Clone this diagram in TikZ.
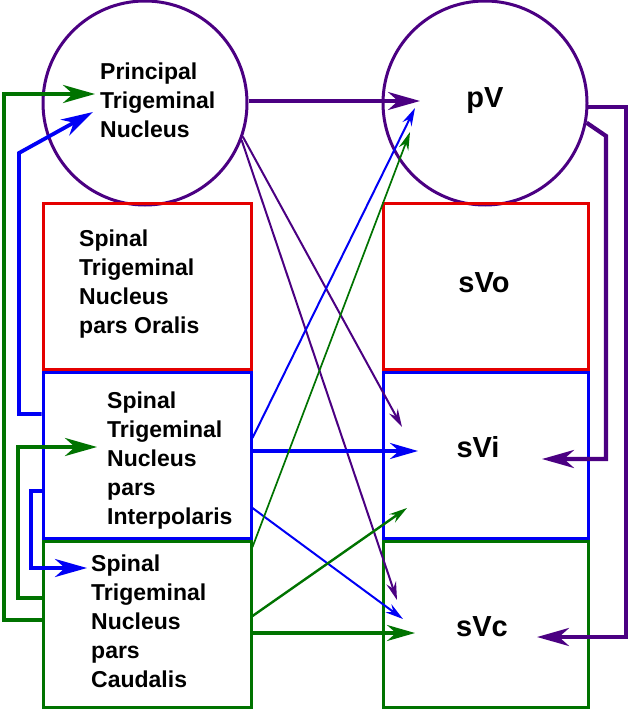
\documentclass[tikz,border=0pt]{standalone}
\usepackage{fontspec}
\setmainfont{Liberation Sans}
\usetikzlibrary{arrows.meta}
\definecolor{pur}{RGB}{75,0,130}
\definecolor{grn}{RGB}{0,115,0}
\definecolor{blu}{RGB}{0,0,245}
\definecolor{rd}{RGB}{228,0,0}
\begin{document}
\begin{tikzpicture}[x=1pt,y=-1pt,
  nuc/.style={circle,draw=pur,line width=3pt,minimum size=204pt,inner sep=0pt},
  box/.style={rectangle,line width=3pt,inner sep=0pt},
  lab/.style={font=\fontsize{23}{29}\selectfont\bfseries,align=left,anchor=north west,inner sep=0pt},
  big/.style={font=\fontsize{29}{34}\selectfont\bfseries,anchor=base,inner sep=0pt},
  bigtip/.style={-{Stealth[length=32pt,width=18pt,inset=10pt]}},
  midtip/.style={-{Stealth[length=28pt,width=16pt,inset=9pt]}},
  smalltip/.style={-{Stealth[length=18pt,width=10pt,inset=6pt]}},
  thickcon/.style={line width=3.8pt,bigtip},
  midcon/.style={line width=3.2pt,midtip},
  thincon/.style={line width=2pt,smalltip},
  purcon/.style={line width=4.2pt,bigtip,draw=pur},
]
\fill[white] (0,0) rectangle (630,711);
\useasboundingbox (0,0) rectangle (630,711);

% nuclei
\node[nuc] (P) at (145,103) {};
\node[nuc] (V) at (485,103) {};
\node[box,draw=rd,minimum width=208pt,minimum height=165pt] (Lo) at (147,286.5) {};
\node[box,draw=rd,minimum width=205pt,minimum height=165pt] (Ro) at (485.5,286.5) {};
\node[box,draw=blu,minimum width=208pt,minimum height=166pt] (Li) at (147,455) {};
\node[box,draw=blu,minimum width=205pt,minimum height=166pt] (Ri) at (485.5,455) {};
\node[box,draw=grn,minimum width=208pt,minimum height=166pt] (Lc) at (147,624) {};
\node[box,draw=grn,minimum width=205pt,minimum height=166pt] (Rc) at (485.5,624) {};

% labels
\node[lab] (tP) at (100,63) {Principal\\Trigeminal\\Nucleus};
\node[lab] (tLo) at (79,230) {Spinal\\Trigeminal\\Nucleus\\pars Oralis};
\node[lab] (tLi) at (107,392) {Spinal\\Trigeminal\\Nucleus\\pars\\Interpolaris};
\node[lab] (tLc) at (91,555) {Spinal\\Trigeminal\\Nucleus\\pars\\Caudalis};
\node[big] (tV) at (485,108) {pV};
\node[big] (tVo) at (484,292) {sVo};
\node[big] (tVi) at (478,457) {sVi};
\node[big] (tVc) at (482,636) {sVc};

% arrow tips
\coordinate (tPa) at (95,94);
\coordinate (tPb) at (93,112);
\coordinate (tVa) at (420,101);
\coordinate (tVb) at (415,108);
\coordinate (tVc) at (410,132);
\coordinate (tIa) at (402,427);
\coordinate (tIb) at (418,451);
\coordinate (tIc) at (407,508);
\coordinate (tId) at (542,459);
\coordinate (tCa) at (397,600);
\coordinate (tCb) at (403,619);
\coordinate (tCc) at (415,633);
\coordinate (tCd) at (537,637);
\coordinate (tLia) at (97,447);
\coordinate (tLca) at (87,568);
% corners
\coordinate (kB1) at (19,153);
\coordinate (kG1) at (4,94);
\coordinate (kG2) at (18,447);
\coordinate (kB2) at (31,568);
\coordinate (kV1) at (606,136);
\coordinate (kV2) at (626,637);

% connectors from Principal
\draw[purcon,line width=3.4pt] (P.east |- tVa) -- (tVa);
\draw[thincon,draw=pur] (P.-19) -- (tIa);
\draw[thincon,draw=pur] (P.-21) -- (tCa);

% connectors from pV
\draw[purcon] (V.-2) -| (kV2) -- (tCd);
\draw[purcon] (V.-11) -- (kV1) -- (kV1 |- tId) -- (tId);

% connectors from Interpolaris
\draw[thickcon,draw=blu] (Li.west |- 0,414) -| (kB1) -- (tPb);
\draw[thickcon,draw=blu] (Li.west |- 0,491) -| (kB2) -- (tLca);
\draw[thincon,draw=blu] (Li.east |- 0,438) -- (tVb);
\draw[midcon,draw=blu] (Li.east |- tIb) -- (tIb);
\draw[thincon,draw=blu] (Li.east |- 0,508) -- (tCb);

% connectors from Caudalis
\draw[thickcon,draw=grn] (Lc.west |- 0,620) -| (kG1) -- (tPa);
\draw[thickcon,draw=grn] (Lc.west |- 0,598) -| (kG2) -- (tLia);
\draw[thincon,draw=grn,line width=1.7pt] (Lc.east |- 0,547) -- (tVc);
\draw[thincon,draw=grn,line width=2.4pt] (Lc.east |- 0,616) -- (tIc);
\draw[midcon,draw=grn] (Lc.east |- tCc) -- (tCc);
\end{tikzpicture}
\end{document}
